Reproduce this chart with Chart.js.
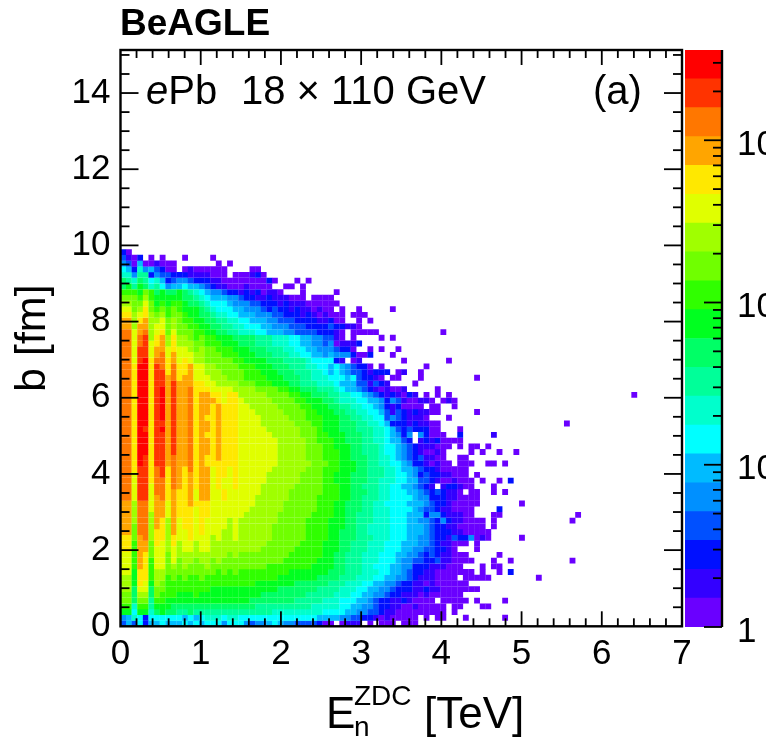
<!DOCTYPE html>
<html>
<head>
<meta charset="utf-8">
<title>BeAGLE</title>
<script src="https://cdn.jsdelivr.net/npm/chart.js@4"></script>
<style>
html, body { margin: 0; padding: 0; background: #fff; }
body { width: 766px; height: 737px; overflow: hidden; position: relative; font-family: "Liberation Sans", sans-serif; color: #000; }
canvas { position: absolute; top: 0; }
#mainChart { left: 0; }
#barChart { left: 684px; }
.txt { position: absolute; line-height: 1; white-space: pre; }
</style>
</head>
<body>
<canvas id="mainChart" width="766" height="737"></canvas>
<canvas id="barChart" width="82" height="737"></canvas>
<div class="txt" style="left:120px;top:4px;font-size:37px;font-weight:bold">BeAGLE</div>
<div class="txt" style="left:146px;top:70px;font-size:40px"><i>e</i>Pb</div>
<div class="txt" style="left:241px;top:70px;font-size:40px">18 × 110 GeV</div>
<div class="txt" style="left:593px;top:70px;font-size:40px">(a)</div>
<div class="txt" style="left:326px;top:691px;font-size:44px">E</div>
<div class="txt" style="left:354px;top:682px;font-size:28px">ZDC</div>
<div class="txt" style="left:354px;top:713px;font-size:28px">n</div>
<div class="txt" style="left:424px;top:691px;font-size:44px">[TeV]</div>
<script>
// histogram binning
const binW = 0.07;   // TeV
const binH = 0.15;   // fm
const xMax = 7;
const yMax = 15.13;

const xTickVals = [0, 1, 2, 3, 4, 5, 6, 7];
const yTickVals = [0, 2, 4, 6, 8, 10, 12, 14];
const zTickVals = [1, 10, 100, 1000];
const zTickLabels = ['1', '10', '10²', '10³'];
const zMinorVals = [2, 3, 4, 5, 6, 7, 8, 9, 20, 30, 40, 50, 60, 70, 80, 90, 200, 300, 400, 500, 600, 700, 800, 900, 2000, 3000];
const zMax = 3600;

// colour bands of the palette, 1 (lowest) to 20 (highest)
const palette = ['#6a00ff', '#3300ff', '#0010ff', '#0050ff', '#0090ff', '#00bbff', '#00ffff', '#00ffcc', '#00ff99', '#00ff66',
  '#00ff20', '#30ff00', '#70ff00', '#a0ff00', '#e0ff00', '#ffe800', '#ffa500', '#ff7700', '#ff3300', '#ff0000'];

// colour band per bin. zRows[k][j]: k = b bin, j = energy bin, 0 = empty
const zRows = [
[4,6,4,7,3,6,6,7,6,6,6,7,6,7,6,7,7,7,5,7,7,7,5,4,5,5,6,7,6,5,5,4,4,4,4,3,1,1,0,1,2,2,2,0,1,0,1,1,1,0,1,1,1],
[5,6,8,7,3,7,7,7,7,7,7,6,7,6,7,8,8,8,7,8,8,7,7,7,7,7,7,7,7,7,7,7,7,7,7,6,6,6,6,5,5,4,4,3,3,2,1,2,1,1,1,1,1,0,1,0,1,1,0,0,0,1],
[11,11,7,11,11,8,10,11,10,10,9,9,10,9,9,9,9,9,9,9,9,9,9,9,9,9,9,8,8,8,8,8,8,8,8,8,7,7,7,7,6,6,5,5,4,4,3,2,2,1,1,1,1,1,1,1,1,1,0,1],
[12,12,8,12,12,9,11,11,11,10,10,10,10,10,10,10,10,10,10,10,10,10,10,10,9,9,9,9,9,9,9,9,9,9,8,8,8,8,8,7,7,6,6,5,5,4,3,3,2,2,1,1,2,1,1,1,1,1,0,1,1],
[13,13,10,13,13,9,12,12,11,11,11,11,11,11,11,11,11,11,11,11,11,11,11,10,10,10,10,10,10,10,10,9,9,9,9,9,8,8,8,7,7,7,6,6,5,4,3,3,2,2,3,2,1,1,1,1,0,1,1,1,1,1,0,1],
[13,13,10,14,14,10,13,12,12,12,11,11,11,12,11,11,11,11,11,11,11,11,11,11,11,10,10,10,10,10,10,10,10,9,9,9,9,9,8,8,8,7,7,6,6,5,5,4,3,3,2,2,2,1,2,1,1,1,1,1,1],
[14,14,10,15,15,10,13,13,12,12,12,12,12,12,12,12,11,11,11,11,11,11,11,11,11,11,11,11,10,10,10,10,10,10,10,9,9,9,9,8,8,8,7,7,6,6,5,5,4,3,3,3,2,2,3,2,2,1,1,1,1,1,1,1],
[14,14,11,16,15,11,14,13,12,12,12,12,12,12,12,12,12,12,12,12,12,12,12,12,11,11,11,11,11,11,11,10,10,10,10,10,10,9,9,9,8,8,8,7,7,6,6,5,5,4,3,3,2,2,1,2,1,1,1,1,1,1],
[14,14,11,16,16,12,14,14,12,13,12,13,12,12,13,12,12,12,12,12,12,12,12,12,12,12,12,12,11,11,11,11,11,11,11,10,10,10,10,9,9,9,8,8,8,7,7,6,6,5,5,4,3,2,2,2,1,1,1,1,0,1,1,1],
[15,15,11,16,16,12,14,14,13,13,13,13,13,13,13,13,13,12,13,12,13,12,12,12,12,12,12,12,12,12,11,11,11,11,11,11,11,10,10,10,9,9,9,8,8,8,7,7,6,6,5,4,3,3,2,2,1,1,1,1,1,1,1],
[15,15,12,17,16,12,15,15,13,14,13,14,13,13,13,14,13,13,13,13,13,13,13,13,13,13,12,12,12,12,12,12,12,12,11,11,11,11,10,10,9,9,9,8,8,7,7,7,6,6,5,5,3,3,3,2,2,2,1,1,1],
[15,15,12,17,16,12,15,15,13,15,13,14,14,13,14,14,13,14,13,13,13,13,13,13,13,13,13,13,13,12,12,12,12,12,12,11,11,11,10,10,9,9,9,8,8,8,7,7,7,6,5,5,4,4,3,3,4,2,2,1,1,1,1],
[15,15,12,17,16,13,15,15,13,15,14,14,14,14,14,14,14,14,14,13,14,13,13,13,13,13,13,13,13,13,12,12,12,12,12,12,11,11,10,10,9,9,9,8,8,8,7,7,7,6,6,5,5,4,3,4,3,2,2,1,1,1],
[16,16,12,17,17,13,15,15,14,15,14,15,15,14,15,15,14,14,14,14,14,14,14,14,14,13,13,13,13,13,13,12,12,12,12,12,11,11,11,10,10,9,9,9,8,8,8,7,7,7,6,6,5,5,4,4,3,3,2,1,0,0,0,1],
[16,16,12,17,17,13,16,15,14,16,14,15,15,14,15,15,14,14,14,14,14,14,14,14,14,14,13,13,13,13,13,13,12,12,12,12,11,11,11,10,10,9,9,9,8,8,8,7,7,7,6,6,6,5,5,4,3,2,2,1,1,1,0,1],
[16,16,13,17,18,14,16,16,14,16,15,15,16,15,15,15,14,15,14,14,15,14,14,14,14,14,14,13,13,13,13,13,13,12,12,12,12,11,11,10,10,10,9,9,9,8,8,8,7,7,7,6,6,5,5,4,3,3,2,4,3,3,5,1,2,1],
[17,17,13,18,18,14,16,16,14,17,15,15,16,15,16,15,15,15,14,14,15,14,14,14,14,14,14,13,13,13,13,13,13,12,12,12,12,11,11,10,10,10,9,9,8,8,8,8,7,7,7,6,6,6,5,4,3,3,3,2,2,1,1,1,1],
[17,17,13,18,18,14,17,16,14,17,15,16,16,15,16,15,15,15,15,14,15,14,14,14,14,14,14,13,13,13,13,13,13,12,12,12,12,11,11,11,10,10,9,9,8,8,8,8,7,7,7,6,6,6,5,4,3,3,2,2,1,1,1,1,1],
[17,17,14,18,18,14,17,16,14,17,15,16,16,15,16,15,15,15,15,14,15,14,14,14,14,14,14,14,13,13,13,13,13,12,12,12,12,11,11,11,10,10,9,9,9,8,8,8,7,7,7,6,6,5,5,4,3,5,3,2,2,1,1,1,1],
[17,17,14,18,18,14,17,17,15,17,16,16,16,15,16,16,15,15,15,15,15,15,14,14,14,14,14,14,13,13,13,13,13,13,12,12,12,12,11,11,10,10,9,9,9,8,8,8,7,7,7,6,6,6,3,5,5,3,2,2,2,1,1],
[17,17,14,18,18,15,17,17,15,17,16,16,16,15,16,16,15,15,15,15,15,15,15,14,14,14,14,14,14,13,13,13,13,13,13,12,12,12,11,11,10,10,10,9,9,8,8,8,7,7,7,7,6,5,4,4,3,2,2,1,1,1,1],
[17,17,14,18,18,15,17,17,15,17,16,16,17,16,16,16,15,15,15,15,15,15,15,15,14,14,14,14,14,13,13,13,13,13,13,12,12,12,11,11,10,10,10,9,9,8,8,7,7,7,7,6,6,6,5,4,3,3,2,1,1,1,1,1],
[18,18,15,19,19,15,17,18,16,17,16,16,17,15,17,17,15,15,16,15,15,15,15,15,14,14,14,14,14,14,13,13,13,13,13,12,12,12,12,11,11,10,10,9,9,9,8,8,7,7,7,7,6,5,5,3,3,3,2,2,1,1,1,1],
[18,18,15,19,19,15,18,18,16,17,16,16,17,15,17,17,15,15,16,15,15,15,15,15,15,14,14,14,14,14,13,13,13,13,13,13,12,12,12,11,11,10,10,10,9,9,8,8,7,7,7,6,6,5,4,3,4,3,2,2,1,0,1,1],
[18,18,15,19,19,15,18,18,16,18,17,16,17,16,17,17,15,16,15,15,16,15,15,15,15,14,14,14,14,14,14,13,13,13,13,13,12,12,12,11,11,10,10,9,9,9,8,8,7,7,6,6,5,4,3,2,0,2,3,3,2,1,1],
[18,18,15,19,19,16,18,18,16,18,17,16,17,16,17,17,15,16,15,15,16,15,15,15,15,15,14,14,14,14,14,14,13,13,13,13,12,12,11,11,11,10,10,10,9,9,8,8,8,7,7,6,6,4,4,3,2,1,1,2,1,1,1,0,1],
[18,18,15,19,19,16,18,19,16,18,17,16,17,16,17,17,15,16,16,15,16,15,15,15,15,15,14,14,14,14,14,14,13,13,13,13,12,12,11,11,11,10,10,10,9,9,9,8,8,7,7,6,5,3,4,3,3,2,2,1,1,1,0,1],
[18,18,16,19,19,16,18,19,16,18,17,16,18,16,17,17,15,16,16,15,16,15,15,15,15,15,15,14,14,14,14,14,14,13,13,13,12,12,12,11,11,11,10,10,9,9,9,8,8,7,6,6,5,4,3,3,2,1,1,1,1,1],
[18,18,16,20,19,16,19,19,17,18,17,17,18,16,17,16,16,16,16,16,16,15,15,15,15,15,15,15,14,14,14,14,14,14,13,13,13,12,12,11,11,11,10,10,9,9,8,8,7,7,6,5,3,3,2,1,2,1,1,0,1,1,1,0,0,1,1],
[18,18,16,20,19,16,19,19,17,18,17,17,18,16,17,16,16,17,16,16,16,15,15,15,15,15,15,15,14,14,14,14,14,13,13,13,12,12,12,11,11,10,10,10,9,9,8,8,7,6,5,4,3,4,2,2,1,1,0,0,1,1],
[18,18,16,20,20,16,19,19,17,19,17,17,18,16,17,17,16,17,16,16,16,15,15,15,15,15,15,15,14,14,14,14,14,13,13,13,12,12,12,11,11,10,10,9,9,9,8,7,7,6,5,4,3,2,1,1,2,1,0,0,0,0,1,0,1],
[18,18,16,20,20,16,19,19,17,19,17,17,18,16,17,17,16,17,16,16,16,15,15,15,15,15,15,15,14,14,14,14,14,13,13,13,12,12,11,11,11,10,10,9,9,9,8,7,7,6,5,4,3,2,2,2,1,1,1,0,1,0,1,1,0,1],
[18,18,16,20,20,16,19,19,17,19,17,17,18,16,17,17,16,17,16,16,16,15,15,15,15,15,15,15,14,14,14,14,14,13,13,12,12,12,11,11,10,10,10,9,9,8,8,7,6,6,4,3,0,2,3,2,3,1,1,1,1],
[18,18,16,20,20,16,19,19,17,19,17,17,18,16,17,16,16,17,16,16,16,15,15,15,15,15,15,14,14,14,14,14,13,13,13,12,12,11,11,11,10,10,10,9,9,8,8,7,6,5,3,5,0,5,3,1,1,1,0,0,3],
[18,18,16,20,19,16,19,20,17,19,17,17,18,16,17,17,16,17,16,16,16,15,15,15,15,15,14,14,14,14,14,14,13,13,13,12,11,11,11,10,10,10,9,9,9,8,8,7,6,4,3,4,3,3,3,1,1,0,0,0,1],
[18,18,16,20,20,16,19,19,17,19,17,17,18,16,17,17,16,17,16,16,16,15,15,15,15,14,14,14,14,14,14,13,13,13,12,12,11,11,11,10,10,10,9,9,8,8,7,6,3,3,3,2,3,2,2,1,1],
[18,18,16,20,20,16,19,20,17,19,17,17,18,16,17,16,16,17,16,16,16,15,15,15,15,14,14,14,14,14,13,13,13,12,12,12,11,11,11,10,10,9,9,8,8,7,7,4,5,4,3,2,2,2,1,0,0,0,1],
[18,18,16,20,20,16,19,20,17,19,17,17,18,16,17,17,16,17,16,16,16,15,15,15,14,14,14,14,14,13,13,13,13,12,12,11,11,11,10,10,9,9,8,8,7,7,6,4,2,4,3,2,3,2,2,1,1],
[18,18,16,20,20,16,19,20,17,19,17,17,18,16,17,17,16,17,16,16,16,15,15,14,14,14,14,14,13,13,13,13,12,12,11,11,11,10,10,9,9,8,8,7,7,6,5,3,2,3,1,1,1,1,0,1,1,0,0,1],
[18,18,16,20,20,16,19,20,17,19,17,17,18,16,17,17,17,16,15,16,16,15,14,14,14,14,14,13,13,13,13,12,12,11,11,11,10,10,9,8,8,8,7,7,6,6,5,3,5,4,2,1,1,2,2,1,0,1,2,1],
[18,18,16,20,20,16,19,20,17,19,17,17,18,16,17,17,16,16,15,16,16,14,14,14,14,14,13,13,13,13,12,12,11,11,10,10,10,9,9,8,8,7,7,6,5,4,3,2,3,2,1,3,2,0,1,0,1,0,1],
[18,18,16,20,20,16,19,20,17,19,17,17,18,16,16,16,15,15,15,15,14,14,14,14,13,13,13,13,12,12,11,11,10,10,10,9,9,9,8,7,6,6,5,4,3,2,1,2,1,1,2,0,0,0,0,0,1],
[18,18,16,20,20,16,19,19,17,19,17,17,17,16,16,15,15,14,14,14,14,13,13,13,12,12,12,11,11,11,10,10,9,9,9,8,8,8,7,6,6,6,4,4,2,4,3,2,0,0,0,0,1],
[18,18,16,20,20,16,19,19,17,18,16,17,17,15,15,15,14,14,14,13,13,13,12,12,12,12,11,11,11,10,10,10,9,9,8,8,8,7,7,7,6,7,4,3,3,2,1,0,1,1,0,0,0,1],
[18,18,16,20,20,16,19,19,16,18,16,16,17,15,15,14,14,14,13,13,13,13,12,12,12,11,11,11,10,10,10,9,9,9,8,8,7,6,7,6,5,4,4,3,2,3,3,3,0,1,2,0,0,1],
[18,18,16,20,20,16,19,18,16,18,16,16,17,15,15,14,14,13,13,13,13,12,12,12,11,11,11,10,10,10,9,9,9,8,8,7,7,6,7,6,5,4,3,3,1,0,1,0,0,0,0,0,0,0,1],
[18,18,15,19,20,16,18,18,16,17,15,16,15,14,14,13,13,13,13,13,12,12,11,11,11,11,10,10,10,9,9,9,9,8,7,7,7,7,3,2,0,1,2,0,0,0,0,0,0,0,1,0,0,0,0,0,0,0,1],
[18,18,15,19,19,15,17,18,15,17,15,15,15,14,14,13,13,13,12,12,12,11,11,11,10,10,10,9,9,9,8,8,7,7,6,6,5,6,5,5,5,3,1,1,3,0,0,0,1],
[18,18,15,19,19,15,17,17,15,16,15,15,14,13,14,13,13,12,12,12,11,11,11,10,10,10,9,9,9,8,8,7,7,6,6,5,5,5,4,3,3,1,0,0,1,0,1,0,0,1],
[18,18,15,18,19,15,16,17,14,16,14,14,14,13,13,12,12,12,11,11,11,10,10,10,9,9,9,8,8,8,7,7,6,6,5,5,4,5,1,2,2,2,3],
[18,18,15,18,19,14,16,17,14,16,14,14,13,12,13,12,12,11,11,11,10,10,10,10,9,9,9,8,8,8,7,7,6,6,5,5,4,4,2,1,0,1,0,0,0,0,1,0,1],
[18,18,15,17,18,14,15,16,13,15,13,13,13,12,12,11,11,10,10,9,9,8,8,8,7,7,6,6,6,5,5,4,4,4,4,3,3,3,2,1,0,1,1,1,1,1],
[17,17,14,17,17,14,15,15,13,14,13,13,12,12,11,11,10,10,9,9,8,8,7,7,7,6,6,5,5,5,4,4,4,3,3,3,3,4,3,3,2,2,1],
[17,17,14,16,17,14,14,15,13,14,13,12,12,11,11,10,10,9,9,8,8,7,7,6,6,6,5,5,4,4,4,3,3,3,3,2,2,3,1,1,0,0,1,0,1],
[16,16,14,15,16,14,13,14,12,13,13,12,11,11,10,10,9,8,8,7,7,6,6,6,5,5,5,4,4,3,3,3,2,3,2,1,2,1,1,1,0,1,1,1],
[15,15,13,14,16,13,12,13,12,13,12,11,11,11,10,9,8,7,7,7,6,6,5,5,5,4,3,4,3,3,2,3,2,2,1,2,1,1,0,1,0,0,1],
[14,14,13,13,15,13,11,12,11,12,12,11,10,10,9,8,7,7,7,6,5,5,5,4,4,3,3,3,2,3,2,2,2,1,1,1,1,1,1],
[13,13,13,12,14,12,11,11,11,11,11,10,10,9,8,7,6,6,6,5,5,4,3,3,2,2,3,2,2,2,1,1,1,0,1,1,1,1],
[12,12,12,11,13,12,10,11,10,10,11,10,9,8,7,6,5,5,4,3,3,2,3,2,3,1,2,2,1,0,0,0,1,0,0,0,0,0,1],
[10,11,9,11,10,8,9,7,5,6,6,7,6,6,5,4,3,2,2,1,1,1,2,1,1,1,1,0,0,1,1,0,1],
[10,9,8,10,9,7,8,6,3,4,5,5,4,3,3,3,2,2,1,1,1,1,1,1,1,1,3,1,0,0,0,1,0,1],
[8,8,5,9,9,3,5,4,4,3,3,3,2,2,2,2,1,1,1,0,1,1,1,2,3,1],
[7,6,3,8,5,6,4,3,1,1,0,1,2,1,1,1,1,1,1,0,0,0,0,1,1],
[5,4,1,6,1,1,2,1,1,1,0,0,0,0,0,0,0,1,0,1],
[4,2,1,3,0,1,0,1,0,0,0,1,0,0,0,0,1],
[3,1]
];

// scattered bins to the right of the main body
const farCols = [67, 70, 68, 67, 69, 66, 66, 68, 71, 67, 66, 67, 66, 66, 65, 71, 67, 66, 69, 64, 66, 67, 64, 67, 69, 64, 65, 74, 68, 64, 65, 68, 48, 57, 63, 63, 66, 91, 79, 81, 80, 80];
const farRows = [30, 30, 28, 25, 25, 24, 23, 23, 21, 20, 19, 19, 18, 17, 16, 15, 12, 11, 11, 10, 10, 10, 9, 9, 9, 8, 8, 8, 4, 3, 3, 1, 55, 51, 43, 37, 33, 40, 35, 19, 18, 11];
const farBands = [1, 1, 1, 1, 3, 1, 1, 1, 1, 3, 1, 1, 1, 1, 1, 1, 1, 1, 1, 1, 1, 1, 1, 1, 3, 1, 1, 1, 1, 1, 1, 1, 1, 1, 1, 1, 2, 1, 1, 1, 1, 1];

// build one point per filled bin
const cellPoints = [];
const cellColors = [];
zRows.forEach(function(row, k) {
    row.forEach(function(band, j) {
        if (band > 0) {
            cellPoints.push({ x: (j + 0.5) * binW, y: (k + 0.5) * binH });
            cellColors.push(palette[band - 1]);
        }
    });
});
farCols.forEach(function(j, i) {
    cellPoints.push({ x: (j + 0.5) * binW, y: (farRows[i] + 0.5) * binH });
    cellColors.push(palette[farBands[i] - 1]);
});

// ROOT style ticks that point into the frame
function hTick(ctx, x, y, len, w) { ctx.fillRect(x, y - w / 2, len, w); }
function vTick(ctx, x, y, len, w) { ctx.fillRect(x - w / 2, y, w, len); }

const frameTicks = {
    id: 'frameTicks',
    afterDatasetsDraw: function(chart) {
        const ctx = chart.ctx, a = chart.chartArea, xs = chart.scales.x, ys = chart.scales.y;
        ctx.save();
        ctx.fillStyle = '#000';
        for (let i = 1; i < 35; i++) {
            const len = i % 5 === 0 ? 15 : 8;
            const px = xs.getPixelForValue(i * 0.2);
            vTick(ctx, px, a.bottom - len, len, 1.8);
            vTick(ctx, px, a.top, len, 1.8);
        }
        for (let i = 1; i <= 30; i++) {
            const len = i % 4 === 0 ? 18 : 9;
            const py = ys.getPixelForValue(i * 0.5);
            hTick(ctx, a.left, py, len, 1.8);
            hTick(ctx, a.right - len, py, len, 1.8);
        }
        ctx.lineWidth = 2.4;
        ctx.strokeStyle = '#000';
        ctx.strokeRect(a.left, a.top, a.right - a.left, a.bottom - a.top);
        ctx.restore();
    }
};

new Chart(document.getElementById('mainChart'), {
    type: 'scatter',
    data: {
        datasets: [{
            data: cellPoints,
            backgroundColor: cellColors,
            pointStyle: 'rect',
            borderWidth: 0,
            pointRadius: function(c) {
                const xs = c.chart.scales.x;
                return (xs.getPixelForValue(binW) - xs.getPixelForValue(0)) / 2 * Math.SQRT2 * 1.04;
            }
        }]
    },
    options: {
        responsive: false,
        animation: false,
        events: [],
        layout: { padding: { top: 50, right: 84, left: 0, bottom: 0 } },
        plugins: { legend: { display: false }, tooltip: { enabled: false } },
        scales: {
            x: {
                type: 'linear', min: 0, max: xMax,
                afterFit: function(s) { s.height = 110.7; },
                afterBuildTicks: function(s) { s.ticks = xTickVals.map(function(v) { return { value: v }; }); },
                grid: { display: false, drawTicks: false },
                border: { display: false },
                ticks: { color: '#000', padding: 7, maxRotation: 0, autoSkip: false, font: { family: 'Liberation Sans', size: 35 } }
            },
            y: {
                type: 'linear', min: 0, max: yMax,
                afterFit: function(s) { s.width = 120.5; },
                afterBuildTicks: function(s) { s.ticks = yTickVals.map(function(v) { return { value: v }; }); },
                grid: { display: false, drawTicks: false },
                border: { display: false },
                title: { display: true, text: 'b [fm]', color: '#000', padding: { top: 7, bottom: 0 }, font: { family: 'Liberation Sans', size: 43 } },
                ticks: { color: '#000', padding: 10, autoSkip: false, font: { family: 'Liberation Sans', size: 35 } }
            }
        }
    },
    plugins: [frameTicks]
});

// colour bar: one floating bar per palette band on a log scale
const barTicks = {
    id: 'barTicks',
    afterDatasetsDraw: function(chart) {
        const ctx = chart.ctx, a = chart.chartArea, ys = chart.scales.y;
        ctx.save();
        ctx.fillStyle = '#000';
        zTickVals.forEach(function(v) { hTick(ctx, a.right - 18, ys.getPixelForValue(v), 18, 1.8); });
        zMinorVals.forEach(function(v) { hTick(ctx, a.right - 9, ys.getPixelForValue(v), 9, 1.8); });
        ctx.fillRect(a.right - 1.2, a.top, 2.4, a.bottom - a.top);
        ctx.restore();
    }
};

const barSets = palette.map(function(c, i) {
    return {
        data: [[Math.pow(zMax, i / palette.length), Math.pow(zMax, (i + 1) / palette.length)]],
        backgroundColor: c,
        borderWidth: 0,
        borderSkipped: false,
        barPercentage: 1,
        categoryPercentage: 1,
        grouped: false
    };
});

new Chart(document.getElementById('barChart'), {
    type: 'bar',
    data: { labels: ['z'], datasets: barSets },
    options: {
        responsive: false,
        animation: false,
        events: [],
        layout: { padding: { top: 50, bottom: 110, left: 1, right: 0 } },
        plugins: { legend: { display: false }, tooltip: { enabled: false } },
        scales: {
            x: { display: false },
            y: {
                type: 'logarithmic', position: 'right', min: 1, max: zMax,
                afterFit: function(s) { s.width = 44; },
                afterBuildTicks: function(s) { s.ticks = zTickVals.map(function(v) { return { value: v }; }); },
                grid: { display: false, drawTicks: false },
                border: { display: false },
                ticks: {
                    color: '#000', padding: 15, labelOffset: 5, autoSkip: false,
                    font: { family: 'Liberation Sans', size: 35 },
                    callback: function(v) { return zTickLabels[zTickVals.indexOf(v)]; }
                }
            }
        }
    },
    plugins: [barTicks]
});
</script>
</body>
</html>
